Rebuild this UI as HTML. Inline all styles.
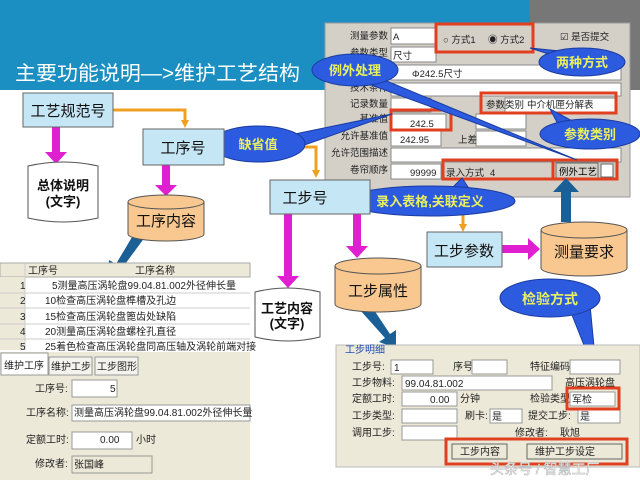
<!DOCTYPE html>
<html><head><meta charset="utf-8"><style>
body{margin:0;width:640px;height:480px;overflow:hidden;background:#fff}
svg text{font-family:"Liberation Sans","Noto Sans CJK SC",sans-serif}
.s{font-family:"Liberation Serif","Noto Serif CJK SC",serif}
</style></head><body>
<svg width="640" height="480" viewBox="0 0 640 480" xmlns="http://www.w3.org/2000/svg">
<defs>
<marker id="ao" markerWidth="8" markerHeight="8" refX="4" refY="4" orient="auto" markerUnits="userSpaceOnUse"><path d="M0,0 L8,4 L0,8z" fill="#f0a020"/></marker>
</defs>
<!-- header -->
<rect x="0" y="0" width="640" height="90" fill="#1b8fc2"/>
<rect x="530" y="0" width="110" height="90" fill="#777"/>
<text x="15" y="80" font-size="20" fill="#fff" textLength="285" lengthAdjust="spacingAndGlyphs">主要功能说明—&gt;维护工艺结构</text>

<!-- dialog -->
<rect x="325" y="23" width="305" height="174" fill="#d4d0c8" stroke="#999"/>
<g font-size="9.5" fill="#222" text-anchor="end">
<text x="388" y="39">测量参数</text><text x="388" y="56">参数类型</text><text x="388" y="74">参照描述</text><text x="388" y="91">技术条件</text>
<text x="388" y="107">记录数量</text><text x="388" y="122">基准值</text><text x="388" y="139">允许基准值</text><text x="388" y="156">允许范围描述</text><text x="388" y="173">卷帘顺序</text>
</g>
<g fill="#fff" stroke="#888">
<rect x="391" y="28" width="45" height="16"/><rect x="391" y="47" width="45" height="15"/><rect x="391" y="65" width="230" height="15"/><rect x="391" y="83" width="230" height="13"/>
<rect x="391" y="98" width="40" height="14"/><rect x="391" y="114" width="55" height="15"/><rect x="391" y="131" width="50" height="15"/><rect x="391" y="148" width="230" height="14"/>
<rect x="391" y="164" width="50" height="15"/><rect x="505" y="98" width="110" height="14"/><rect x="476" y="131" width="50" height="15"/><rect x="476" y="114" width="50" height="15"/>
</g>
<g font-size="9.5" fill="#222">
<text x="393" y="40">A</text><text x="393" y="59">尺寸</text><text x="412" y="77">Φ242.5尺寸</text>
<text x="410" y="127">242.5</text><text x="400" y="143">242.95</text><text x="410" y="176">99999</text>
<text x="458" y="143">上差</text><text x="446" y="176">录入方式</text><text x="490" y="176">4</text>
<text x="486" y="108">参数类别</text><text x="527" y="108">中介机匣分解表</text>
<text x="443" y="43">○ 方式1</text><text x="488" y="43">◉ 方式2</text><text x="560" y="40">☑ 是否提交</text>
</g>
<rect x="556" y="163" width="42" height="16" fill="#d4d0c8" stroke="#666"/><text x="559" y="175" font-size="9.5">例外工艺</text>
<rect x="601" y="164" width="12" height="13" fill="#fff" stroke="#666"/>
<g fill="none" stroke="#e04020" stroke-width="3">
<rect x="436" y="24" width="97" height="28"/><rect x="481" y="93" width="135" height="20"/><rect x="391" y="110" width="60" height="20"/>
<rect x="443" y="160" width="110" height="19"/><rect x="553" y="160" width="64" height="19"/>
</g>

<!-- connectors -->
<g fill="none" stroke="#f0a020" stroke-width="3">
<path d="M113,110 H185 V124" marker-end="url(#ao)"/>
<path d="M300,147 H316 V174" marker-end="url(#ao)"/>
<path d="M463,214 V228" marker-end="url(#ao)"/>
</g>
<g fill="#e020d0">
<path d="M52,127 h8 v25 h7 l-11,12 l-11,-12 h7z"/>
<path d="M162,165 h8 v20 h7 l-11,11 l-11,-11 h7z"/>
<path d="M284,214 h8 v62 h7 l-11,12 l-11,-12 h7z"/>
<path d="M353,214 h8 v32 h7 l-11,12 l-11,-12 h7z"/>
<path d="M502,245 h26 v-7 l12,11 l-12,11 v-7 h-26z"/>
</g>
<g fill="#1a5f95">
<path d="M561,222 v-30 h-8 l13,-14 l13,14 h-8 v30z"/>
<path d="M138,227 l10,6 l-28,38 l7,4 l-20,5 l2,-20 l7,4z"/>
<path d="M360,310 l10,-6 l20,30 l6,-4 l0,18 l-17,-6 l6,-4z"/>
</g>

<!-- callouts -->
<g fill="#2d5be0" stroke="#1a3ca0">
<path d="M290,135 L392,114 L296,148z"/>
<ellipse cx="258" cy="144" rx="47" ry="18"/>
<path d="M360,70 L577,160 L352,78z"/>
<ellipse cx="355" cy="70" rx="43" ry="16"/>
<path d="M555,56 L530,48 L570,52z"/>
<ellipse cx="582" cy="62" rx="43" ry="14"/>
<path d="M560,128 L550,109 L578,124z"/>
<ellipse cx="590" cy="134" rx="50" ry="15"/>
<path d="M450,190 L462,178 L470,190z"/>
<ellipse cx="430" cy="201" rx="85" ry="15"/>
<path d="M570,310 L597,378 L590,305z"/>
<ellipse cx="550" cy="298" rx="50" ry="19"/>
</g>
<g font-size="13" fill="#e8f060" font-weight="bold" text-anchor="middle">
<text x="258" y="149">缺省值</text><text x="355" y="75">例外处理</text><text x="582" y="67">两种方式</text>
<text x="590" y="139">参数类别</text><text x="430" y="206">录入表格,关联定义</text><text x="550" y="304" font-size="14">检验方式</text>
</g>

<!-- boxes -->
<g fill="#c5e6f5" stroke="#666">
<rect x="23" y="93" width="90" height="34"/><rect x="143" y="129" width="81" height="36"/>
<rect x="270" y="180" width="100" height="34"/><rect x="427" y="232" width="75" height="35"/>
</g>
<g class="s" font-size="15" fill="#111" text-anchor="middle">
<text x="68" y="116">工艺规范号</text><text x="183" y="153">工序号</text><text x="305" y="203">工步号</text><text x="464" y="256">工步参数</text>
</g>
<!-- cylinders -->
<g fill="#f8c890" stroke="#555">
<path d="M128,202 v32 a38,7 0 0 0 76,0 v-32"/><ellipse cx="166" cy="202" rx="38" ry="7"/>
<path d="M335,266 v38 a43,8 0 0 0 86,0 v-38"/><ellipse cx="378" cy="266" rx="43" ry="8"/>
<path d="M541,230 v38 a43,8 0 0 0 86,0 v-38"/><ellipse cx="584" cy="230" rx="43" ry="8"/>
</g>
<g class="s" font-size="15" fill="#111" text-anchor="middle">
<text x="166" y="226">工序内容</text><text x="378" y="296">工步属性</text><text x="584" y="257">测量要求</text>
</g>
<!-- documents -->
<g fill="#fff" stroke="#555">
<path d="M28,166 q35,-8 70,0 v52 q-35,8 -70,0z"/>
<path d="M255,292 q32,-8 65,0 v45 q-32,8 -65,0z"/>
</g>
<g class="s" font-size="13" fill="#111" text-anchor="middle" font-weight="bold">
<text x="63" y="190">总体说明</text><text x="63" y="206">(文字)</text>
<text x="287" y="313">工艺内容</text><text x="287" y="328">(文字)</text>
</g>

<!-- table -->
<rect x="0" y="263" width="250" height="87" fill="#fff"/>
<rect x="0" y="263" width="250" height="14" fill="#ece9d8" stroke="#aaa"/>
<rect x="0" y="277" width="25" height="73" fill="#ece9d8"/>
<g stroke="#ccc"><line x1="0" y1="293" x2="250" y2="293"/><line x1="0" y1="308" x2="250" y2="308"/><line x1="0" y1="324" x2="250" y2="324"/><line x1="0" y1="339" x2="250" y2="339"/><line x1="25" y1="263" x2="25" y2="350"/></g>
<g font-size="10" fill="#222">
<text x="28" y="274">工序号</text><text x="135" y="274">工序名称</text>
<text x="20" y="289">1</text><text x="20" y="304">2</text><text x="20" y="320">3</text><text x="20" y="335">4</text><text x="20" y="350">5</text>
<text x="52" y="289">5测量高压涡轮盘99.04.81.002外径伸长量</text>
<text x="45" y="304">10检查高压涡轮盘榫槽及孔边</text><text x="45" y="320">15检查高压涡轮盘篦齿处缺陷</text>
<text x="45" y="335">20测量高压涡轮盘螺栓孔直径</text><text x="45" y="350">25着色检查高压涡轮盘同高压轴及涡轮前端对接</text>
</g>
<rect x="0" y="352" width="250" height="128" fill="#ece9d8"/>
<g fill="#f4f3ee" stroke="#999"><rect x="49" y="357" width="43" height="18"/><rect x="95" y="357" width="43" height="18"/></g>
<rect x="1" y="353" width="47" height="22" fill="#fff" stroke="#999"/>
<g font-size="10" fill="#222"><text x="4" y="369">维护工序</text><text x="51" y="370">维护工步</text><text x="97" y="370">工步图形</text>
<text x="35" y="392">工序号:</text><text x="26" y="416">工序名称:</text><text x="26" y="443">定额工时:</text><text x="35" y="467">修改者:</text></g>
<g fill="#fff" stroke="#999"><rect x="72" y="380" width="45" height="17"/><rect x="72" y="405" width="178" height="16"/><rect x="72" y="432" width="60" height="17"/></g>
<rect x="72" y="456" width="80" height="17" fill="#ece9d8" stroke="#999"/>
<g font-size="10" fill="#222"><text x="110" y="392">5</text><text x="74" y="416">测量高压涡轮盘99.04.81.002外径伸长量</text><text x="100" y="443">0.00</text><text x="136" y="443">小时</text><text x="74" y="468">张国峰</text></g>

<!-- step detail -->
<rect x="336" y="345" width="304" height="122" fill="#ece9d8" stroke="#bbb"/>
<text x="345" y="353" font-size="10" fill="#2050b0">工步明细</text>
<g font-size="10" fill="#222">
<text x="352" y="370">工步号:</text><text x="453" y="370">序号:</text><text x="530" y="370">特征编码:</text>
<text x="352" y="386">工步物料:</text><text x="565" y="386">高压涡轮盘</text>
<text x="352" y="402">定额工时:</text><text x="460" y="402">分钟</text><text x="530" y="402">检验类型</text>
<text x="352" y="419">工步类型:</text><text x="465" y="419">刷卡:</text><text x="528" y="419">提交工步:</text>
<text x="352" y="436">调用工步:</text><text x="515" y="436">修改者:</text><text x="560" y="436">耿旭</text>
</g>
<g fill="#fff" stroke="#999">
<rect x="391" y="360" width="42" height="14"/><rect x="472" y="360" width="35" height="14"/><rect x="570" y="360" width="50" height="14"/>
<rect x="402" y="376" width="150" height="14"/><rect x="402" y="392" width="55" height="14"/><rect x="570" y="392" width="45" height="14"/>
<rect x="402" y="409" width="55" height="14"/><rect x="490" y="409" width="32" height="14"/><rect x="578" y="409" width="42" height="14"/><rect x="402" y="426" width="55" height="14"/>
</g>
<g font-size="10" fill="#222"><text x="394" y="371">1</text><text x="405" y="387">99.04.81.002</text><text x="430" y="403">0.00</text><text x="572" y="403">军检</text><text x="492" y="420">是</text><text x="580" y="420">是</text></g>
<rect x="567" y="388" width="52" height="21" fill="none" stroke="#e04020" stroke-width="3"/>
<g fill="#ece9d8" stroke="#666"><rect x="452" y="444" width="55" height="15"/><rect x="527" y="444" width="95" height="15"/></g>
<g font-size="10" fill="#222"><text x="460" y="455">工步内容</text><text x="535" y="455">维护工步设定</text></g>
<rect x="446" y="439" width="181" height="25" fill="none" stroke="#e04020" stroke-width="3"/>
<text x="490" y="474" font-size="14" fill="#fff" stroke="#bbb" stroke-width="0.6">头条号 / 智慧工厂</text>
</svg>
</body></html>
